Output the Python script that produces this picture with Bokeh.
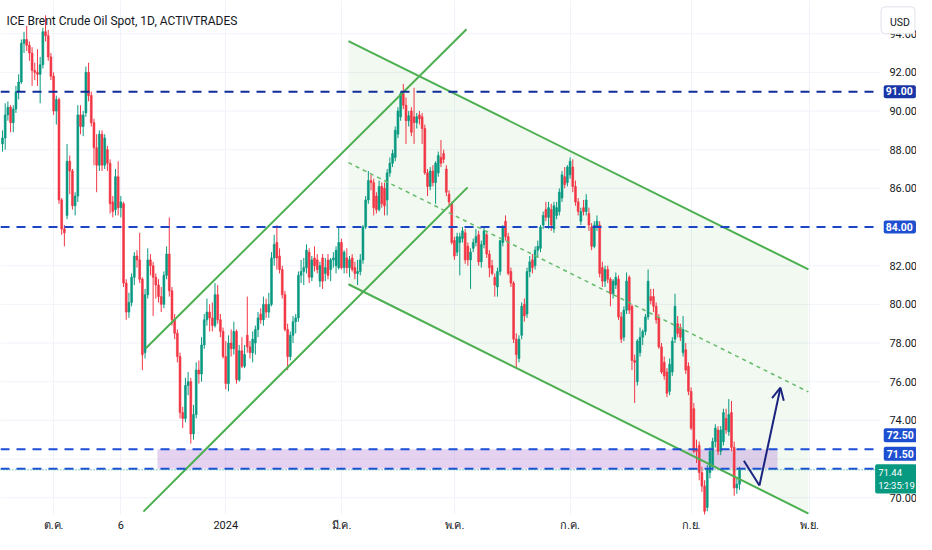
from bokeh.plotting import figure
from bokeh.models import (ColumnDataSource, Range1d, FixedTicker, Label, Arrow, OpenHead)
from bokeh.core.properties import value
from bokeh.embed import file_html
from bokeh.resources import INLINE

TITLE = "ICE Brent Crude Oil Spot, 1D, ACTIVTRADES"
CURRENCY = "USD"

# ---- daily candles (bar index 0 = first visible session) ----
opens = [
    88.3, 88.6, 89.8, 90.2, 89.4, 90.1, 91.0, 91.5, 93.5, 93.7,
    93.4, 93.0, 92.1, 92.0, 91.9, 92.4, 94.1, 93.9, 92.8, 91.8,
    90.0, 90.6, 85.4, 83.9, 84.6, 87.4, 86.9, 85.1, 85.6, 89.8,
    89.2, 89.9, 92.0, 90.8, 89.4, 88.1, 87.2, 88.8, 87.2, 88.0,
    87.3, 85.3, 84.9, 86.6, 85.0, 85.2, 81.1, 79.6, 80.1, 81.4,
    82.5, 82.3, 81.3, 77.5, 80.5, 82.3, 82.0, 81.4, 81.0, 80.4,
    80.0, 81.5, 82.6, 80.7, 79.2, 78.5, 77.3, 74.4, 74.1, 75.8,
    76.0, 73.3, 74.3, 76.6, 76.4, 77.9, 79.2, 79.6, 79.3, 78.9,
    80.5, 79.2, 78.6, 77.3, 75.9, 78.0, 77.7, 78.6, 76.1, 77.6,
    76.8, 78.4, 77.8, 77.5, 78.0, 78.7, 79.5, 79.2, 80.0, 79.6,
    80.0, 82.4, 83.2, 82.5, 81.8, 80.5, 78.7, 77.3, 78.4, 79.1,
    79.3, 81.5, 81.7, 81.9, 82.7, 81.4, 82.4, 82.3, 81.2, 82.4,
    81.6, 82.3, 81.8, 82.3, 82.0, 81.9, 83.2, 81.9, 82.4, 81.9,
    82.4, 81.9, 81.6, 81.7, 82.3, 84.0, 85.4, 86.4, 86.3, 85.6,
    84.9, 86.1, 86.0, 85.4, 86.8, 87.3, 87.6, 88.8, 89.7, 90.9,
    90.3, 89.5, 90.0, 89.7, 89.4, 89.8, 89.7, 89.1, 86.8, 86.1,
    86.9, 86.3, 86.8, 87.6, 87.8, 87.0, 85.7, 85.2, 83.3, 82.7,
    83.2, 83.4, 83.7, 83.0, 82.3, 82.9, 83.2, 83.6, 82.2, 83.1,
    83.6, 82.6, 82.0, 81.4, 80.9, 81.7, 83.2, 84.3, 83.5, 81.7,
    81.1, 78.2, 77.2, 78.4, 80.0, 79.5, 81.7, 82.3, 82.0, 82.8,
    82.9, 84.1, 84.9, 84.5, 84.9, 83.9, 84.6, 84.8, 85.5, 86.6,
    86.3, 86.7, 87.1, 86.1, 85.3, 84.3, 85.0, 84.8, 84.7, 84.0,
    83.0, 84.0, 84.1, 81.9, 81.2, 81.8, 81.3, 80.55, 81.0, 81.3,
    79.35, 78.3, 79.7, 81.4, 79.9, 77.1, 76.0, 77.5, 78.3, 78.6,
    79.35, 80.4, 80.4, 79.9, 79.3, 77.8, 77.0, 76.5, 75.5, 76.5,
    78.2, 79.0, 78.8, 77.5, 77.65, 76.8, 75.5, 74.6, 72.5, 72.7,
    71.3, 70.6, 69.5, 71.3, 71.6, 72.9, 73.5, 72.4, 72.9, 74.1,
    73.4, 74.4, 72.6, 70.5, 70.7,
]
highs = [
    89.0, 90.4, 90.5, 90.3, 90.3, 91.3, 91.9, 93.7, 94.1, 94.4,
    93.6, 93.3, 92.5, 93.2, 92.8, 94.3, 94.95, 94.2, 93.0, 92.0,
    90.8, 90.7, 85.5, 84.1, 88.3, 87.7, 87.0, 85.8, 90.3, 90.3,
    90.0, 92.3, 92.5, 91.0, 89.6, 88.8, 89.0, 89.0, 88.8, 88.2,
    87.5, 85.6, 87.0, 87.4, 85.6, 85.3, 81.3, 80.6, 81.6, 82.7,
    82.8, 83.7, 81.4, 80.8, 82.9, 82.6, 82.2, 81.6, 81.3, 80.9,
    81.7, 83.0, 84.5, 80.9, 79.5, 78.7, 77.5, 74.7, 76.2, 76.5,
    76.2, 74.8, 77.0, 77.1, 78.3, 79.5, 80.3, 80.0, 80.1, 81.1,
    81.0, 79.5, 78.8, 78.1, 78.4, 78.7, 79.1, 78.7, 77.9, 78.3,
    77.9, 80.4, 78.1, 78.6, 78.9, 79.6, 79.8, 80.4, 80.3, 80.6,
    82.7, 83.6, 84.1, 82.9, 82.0, 80.7, 79.0, 78.6, 79.4, 79.5,
    81.7, 82.3, 82.4, 83.1, 82.9, 82.5, 83.0, 82.6, 82.2, 82.6,
    82.4, 82.6, 82.4, 82.7, 83.0, 84.0, 83.4, 82.8, 82.9, 82.5,
    82.6, 82.2, 82.3, 82.6, 84.1, 85.6, 86.9, 86.7, 86.5, 85.8,
    86.4, 86.3, 86.3, 87.0, 87.6, 88.0, 89.2, 90.2, 91.0, 91.4,
    90.7, 90.0, 90.2, 91.2, 89.9, 90.0, 89.9, 89.3, 87.0, 87.1,
    87.2, 87.4, 87.9, 88.5, 88.0, 87.2, 85.9, 85.3, 83.5, 83.7,
    83.7, 84.0, 83.9, 83.2, 82.9, 83.4, 83.9, 83.8, 83.3, 84.0,
    83.7, 82.8, 82.3, 81.6, 81.9, 83.3, 84.1, 84.6, 83.7, 81.9,
    81.2, 78.5, 78.4, 80.1, 80.3, 81.9, 82.5, 82.6, 83.0, 83.3,
    84.1, 84.8, 85.3, 85.3, 85.2, 85.3, 85.3, 86.0, 86.9, 87.1,
    87.2, 87.6, 87.5, 86.4, 85.5, 85.0, 85.4, 85.7, 85.0, 84.2,
    84.3, 84.6, 84.3, 82.2, 82.0, 82.0, 81.4, 81.3, 81.65, 81.5,
    79.6, 79.9, 81.65, 81.5, 80.0, 77.4, 78.2, 78.8, 78.7, 79.5,
    81.8, 80.8, 80.8, 80.1, 79.5, 78.0, 77.3, 76.7, 77.2, 78.3,
    80.55, 79.4, 79.0, 79.4, 78.0, 77.0, 75.7, 74.9, 73.0, 72.9,
    71.6, 70.9, 71.7, 72.6, 73.1, 73.8, 73.7, 73.7, 74.6, 74.6,
    75.1, 75.0, 72.9, 71.0, 71.6,
]
lows = [
    87.9, 88.0, 89.5, 88.9, 88.9, 89.9, 90.6, 91.4, 93.0, 93.1,
    92.6, 91.3, 91.6, 91.3, 90.4, 92.2, 93.6, 92.6, 91.6, 89.8,
    89.3, 85.2, 83.6, 83.0, 84.4, 85.7, 84.9, 84.6, 85.3, 88.8,
    88.7, 89.7, 90.5, 89.2, 87.2, 85.8, 86.9, 86.9, 87.0, 86.9,
    84.7, 84.5, 84.6, 84.6, 84.5, 80.9, 79.2, 79.3, 79.9, 81.0,
    81.9, 81.1, 76.6, 77.2, 80.3, 81.5, 79.4, 80.3, 80.1, 79.6,
    79.8, 81.3, 80.4, 78.9, 78.2, 77.0, 74.1, 73.6, 73.9, 75.3,
    72.8, 73.0, 74.1, 75.9, 76.0, 77.7, 78.9, 78.6, 78.6, 78.8,
    79.0, 78.3, 77.2, 75.6, 75.5, 77.3, 77.4, 75.9, 76.0, 76.7,
    76.7, 77.5, 77.2, 77.0, 77.4, 78.3, 79.0, 78.9, 79.3, 79.3,
    79.9, 82.0, 81.8, 81.6, 80.3, 78.6, 76.6, 77.1, 78.0, 78.5,
    79.1, 81.1, 81.0, 81.6, 81.1, 81.2, 81.7, 81.6, 80.9, 80.8,
    81.2, 81.3, 81.2, 81.9, 81.6, 81.8, 81.8, 81.6, 81.6, 81.4,
    81.7, 81.3, 81.0, 81.5, 82.1, 83.9, 85.2, 85.9, 84.6, 84.7,
    84.8, 85.0, 84.6, 84.6, 86.6, 87.1, 87.4, 88.6, 89.5, 90.1,
    88.3, 89.2, 88.7, 88.3, 89.1, 89.3, 88.3, 86.7, 85.6, 85.9,
    86.1, 85.2, 86.6, 87.1, 87.3, 85.6, 85.1, 83.1, 82.3, 82.5,
    81.5, 83.2, 82.1, 82.0, 80.8, 82.7, 83.0, 82.0, 81.9, 82.9,
    82.4, 81.4, 81.5, 80.4, 80.4, 81.5, 83.0, 83.3, 81.5, 80.9,
    78.0, 76.7, 77.0, 78.2, 79.1, 79.3, 81.4, 81.6, 81.8, 82.4,
    82.7, 83.9, 84.3, 83.9, 83.8, 83.7, 84.4, 84.6, 85.3, 86.0,
    86.1, 86.5, 85.8, 85.1, 84.6, 84.1, 84.6, 84.6, 83.8, 82.8,
    82.9, 83.8, 81.4, 80.9, 80.9, 81.1, 79.9, 80.3, 80.8, 79.2,
    78.0, 78.1, 79.5, 79.5, 76.6, 74.9, 75.8, 77.3, 77.9, 78.4,
    79.2, 80.0, 79.6, 79.0, 77.7, 76.4, 76.1, 75.2, 75.3, 76.3,
    78.0, 78.3, 78.1, 77.3, 76.4, 75.3, 73.5, 72.3, 71.8, 70.9,
    70.3, 69.1, 69.3, 71.0, 71.4, 72.6, 72.2, 72.2, 72.7, 73.3,
    73.2, 72.4, 70.1, 70.2, 70.4,
]
closes = [
    88.6, 89.8, 90.2, 89.4, 90.1, 91.0, 91.5, 93.5, 93.7, 93.4,
    93.0, 92.1, 92.0, 91.9, 92.4, 94.1, 93.9, 92.8, 91.8, 90.0,
    90.6, 85.4, 83.9, 83.7, 87.4, 86.9, 85.1, 85.6, 89.8, 89.2,
    89.8, 92.0, 90.8, 89.4, 88.1, 87.2, 88.8, 87.2, 88.6, 87.3,
    85.2, 84.8, 86.6, 85.0, 85.3, 81.1, 79.6, 80.1, 81.4, 82.5,
    82.3, 81.3, 77.4, 80.5, 82.3, 82.0, 81.4, 81.0, 80.4, 80.0,
    81.5, 82.6, 80.7, 79.2, 78.5, 77.3, 74.4, 74.1, 75.8, 76.0,
    73.3, 74.3, 76.6, 76.4, 77.9, 79.2, 79.6, 79.3, 78.9, 80.5,
    79.2, 78.6, 77.3, 75.9, 78.0, 77.7, 78.6, 76.1, 77.6, 76.8,
    77.4, 77.8, 77.5, 78.2, 78.7, 79.3, 79.2, 80.0, 79.6, 80.0,
    82.4, 83.1, 82.4, 81.8, 80.5, 78.7, 77.3, 78.4, 79.1, 79.3,
    81.5, 81.7, 81.9, 82.8, 81.4, 82.3, 82.0, 81.8, 82.0, 81.2,
    81.9, 81.5, 82.3, 82.4, 82.8, 83.2, 81.9, 82.7, 81.9, 82.3,
    81.8, 81.6, 81.7, 82.3, 84.0, 85.4, 86.4, 86.3, 85.0, 84.9,
    86.1, 85.2, 85.1, 86.8, 87.3, 87.8, 89.0, 90.0, 90.9, 90.3,
    89.5, 89.75, 88.9, 89.4, 89.7, 89.6, 89.1, 86.8, 86.1, 86.9,
    86.3, 87.3, 87.7, 87.3, 87.5, 85.8, 85.3, 83.2, 82.5, 83.5,
    83.5, 83.8, 82.3, 82.3, 82.7, 83.2, 83.5, 82.2, 83.1, 83.8,
    82.6, 81.9, 81.6, 81.0, 81.7, 83.3, 84.0, 83.5, 81.6, 81.1,
    78.2, 77.4, 78.2, 79.9, 79.4, 81.7, 82.2, 81.9, 82.8, 83.0,
    84.0, 84.6, 84.5, 85.0, 84.1, 85.1, 85.0, 85.8, 86.7, 86.2,
    87.1, 87.4, 86.1, 85.3, 84.8, 84.8, 84.8, 85.4, 84.1, 83.0,
    84.1, 84.3, 81.6, 81.2, 81.8, 81.3, 80.55, 81.2, 81.4, 79.35,
    78.2, 79.7, 81.2, 79.7, 77.1, 77.0, 78.1, 78.3, 78.6, 79.35,
    81.2, 80.2, 79.9, 79.2, 77.8, 76.5, 76.3, 75.4, 76.9, 78.1,
    79.9, 78.5, 78.3, 78.7, 76.6, 75.5, 73.6, 72.4, 72.4, 71.3,
    70.6, 69.3, 71.5, 72.4, 72.9, 73.6, 72.4, 73.5, 74.4, 73.5,
    74.3, 72.6, 70.5, 70.7, 71.44,
]

# time axis (bar index of first session of each labelled period)
month_ticks = [19, 44, 83, 126, 168, 211, 256, 300]
month_labels = ["ต.ค.", "6", "2024", "มี.ค.", "พ.ค.", "ก.ค.", "ก.ย.", "พ.ย."]
price_ticks = [70, 72, 74, 76, 78, 80, 82, 84, 86, 88, 90, 92, 94]
hidden_scale_labels = [72]   # covered by the price tags on the scale

# horizontal levels and current price
level_major = [91.0, 84.0]
level_zone = [72.5, 71.5]
last_price = 71.44
countdown = "12:35:19"

# drawings (bar index, price)
zone_bars = [57.6, 288.1]
asc_upper_x, asc_upper_y = [53.2, 172.5], [77.72, 94.23]
asc_lower_x, asc_lower_y = [52.4, 172.9], [69.28, 86.05]
chan_x = [128.6, 299.6]
chan_upper_y = [93.62, 81.81]
chan_lower_y = [81.04, 69.18]
chan_mid_y = [87.33, 75.47]
arrow_x = [275.6, 281.4, 289.2]
arrow_y = [71.91, 70.63, 75.69]

# ---- styling / layout ----
FONT = "Roboto"
UP, DOWN = "#089981", "#f23645"
GREEN_LINE = "#4caf50"
NAVY = "#1a237e"
TEXT = "#131722"
GRID = "#f0f3fa"
X0, X_PANE_END, X1 = -0.743, 326.4, 339.78   # chart pane ends where the price scale begins
Y0, Y1 = 69.13, 95.717
SCALE_X = 329.7      # left edge of price-scale labels
TAG_X = 327.6        # left edge of price-tag text
TAG_X_LAST = 324.4   # last-price tag (two lines) starts a little further left
USD_X = 332.9        # centre of the currency button

N = len(closes)
bars = list(range(N))
src = ColumnDataSource(dict(
    x=bars, h=highs, l=lows,
    top=[max(o, c) for o, c in zip(opens, closes)],
    bot=[min(o, c) for o, c in zip(opens, closes)],
    color=[UP if c >= o else DOWN for o, c in zip(opens, closes)],
))

p = figure(width=916, height=534, output_backend="svg", toolbar_location=None, tools="",
           x_range=Range1d(X0, X1), y_range=Range1d(Y0, Y1),
           min_border_left=0, min_border_top=0, min_border_right=0, min_border_bottom=17)
p.outline_line_color = None
p.background_fill_color = "white"
p.border_fill_color = "white"
p.yaxis.visible = False
p.ygrid.visible = False

p.xgrid.ticker = FixedTicker(ticks=month_ticks)
p.xgrid.grid_line_color = GRID
p.xaxis.ticker = FixedTicker(ticks=month_ticks)
p.xaxis.major_label_overrides = {t: s for t, s in zip(month_ticks, month_labels)}
ax = p.xaxis[0]
ax.axis_line_color = None
ax.major_tick_line_color = None
ax.minor_tick_line_color = None
ax.major_tick_out = 0
ax.major_tick_in = 0
ax.major_label_text_font = FONT
ax.major_label_text_font_size = "11px"
ax.major_label_text_color = TEXT
ax.major_label_standoff = 4

# horizontal grid of the chart pane
p.segment(x0=[X0] * len(price_ticks), x1=[X_PANE_END] * len(price_ticks),
          y0=price_ticks, y1=price_ticks, line_color=GRID, line_width=1)

# price scale labels
shown = [t for t in price_ticks if t not in hidden_scale_labels]
p.text(x=[SCALE_X] * len(shown), y=shown, text=["%.2f" % t for t in shown],
       text_font=value(FONT), text_font_size=value("11px"), text_color=TEXT,
       text_align=value("left"), text_baseline=value("middle"))

# parallel channel fill
p.patch(x=[chan_x[0], chan_x[1], chan_x[1], chan_x[0]],
        y=[chan_upper_y[0], chan_upper_y[1], chan_lower_y[1], chan_lower_y[0]],
        fill_color=GREEN_LINE, fill_alpha=0.08, line_color=None)

# support zone
p.quad(left=zone_bars[0], right=zone_bars[1], bottom=min(level_zone), top=max(level_zone),
       fill_color="#b47fd8", fill_alpha=0.35, line_color=None)

# candles
p.segment(x0="x", y0="h", x1="x", y1="l", line_color="color", line_width=1, source=src)
p.vbar(x="x", width=0.7, top="top", bottom="bot", fill_color="color",
       line_color="color", line_width=0.6, source=src)

# trend lines
p.line(asc_upper_x, asc_upper_y, line_color=GREEN_LINE, line_width=2)
p.line(asc_lower_x, asc_lower_y, line_color=GREEN_LINE, line_width=2)
p.line(chan_x, chan_upper_y, line_color=GREEN_LINE, line_width=2)
p.line(chan_x, chan_lower_y, line_color=GREEN_LINE, line_width=2)
p.line(chan_x, chan_mid_y, line_color="#66bb6a", line_width=1.5, line_dash="4 4")

# horizontal levels
def hline(y, color, width=2, dash="9 7"):
    p.line([X0, X_PANE_END], [y, y], line_color=color, line_width=width, line_dash=dash)

hline(level_major[0], "#102c9c")
hline(level_major[1], "#1b45c4")
for lv in level_zone:
    hline(lv, "#1d4ed8")
hline(last_price, UP, width=1, dash="1 2")

# projected path arrow
p.line(arrow_x[:2], arrow_y[:2], line_color=NAVY, line_width=2)
p.add_layout(Arrow(end=OpenHead(size=12, line_color=NAVY, line_width=2),
                   x_start=arrow_x[1], y_start=arrow_y[1], x_end=arrow_x[2], y_end=arrow_y[2],
                   line_color=NAVY, line_width=2))

# title
p.add_layout(Label(x=1.5, y=94.64, text=TITLE, text_font=FONT, text_font_size="12px",
                   text_color=TEXT, text_align="left", text_baseline="middle"))

# price tags on the scale
def tag(price, text, color, dy=0, bold=True, size="10.5px", x=TAG_X, pad=(2, 3, 2, 3)):
    p.add_layout(Label(x=x, y=price, y_offset=dy, text=text, text_font=FONT,
                       text_font_size=size, text_font_style="bold" if bold else "normal",
                       text_color="white", text_align="left", text_baseline="middle",
                       background_fill_color=color, background_fill_alpha=1.0,
                       padding=pad, border_radius=2))

tag(level_major[0], "%.2f" % level_major[0], "#1a35a6")
tag(level_major[1], "%.2f" % level_major[1], "#1f4fd1")
tag(level_zone[0], "%.2f" % level_zone[0], "#1f4fd1", dy=14, pad=(3, 3, 3, 3))
tag(level_zone[1], "%.2f" % level_zone[1], "#1f4fd1", dy=15, pad=(3, 3, 3, 3))
tag(last_price, "%.2f\n%s" % (last_price, countdown), UP, dy=-9, bold=False, size="9.5px",
    x=TAG_X_LAST, pad=(3, 2, 3, 2))

p.add_layout(Label(x=USD_X, y=94.69, text=CURRENCY, text_font=FONT, text_font_size="10.5px",
                   text_color=TEXT, text_align="center", text_baseline="middle",
                   background_fill_color="white", border_line_color="#e0e3eb",
                   border_line_width=1, padding=(9, 5, 9, 5), border_radius=4))

open("out.html", "w").write(file_html(p, INLINE))
